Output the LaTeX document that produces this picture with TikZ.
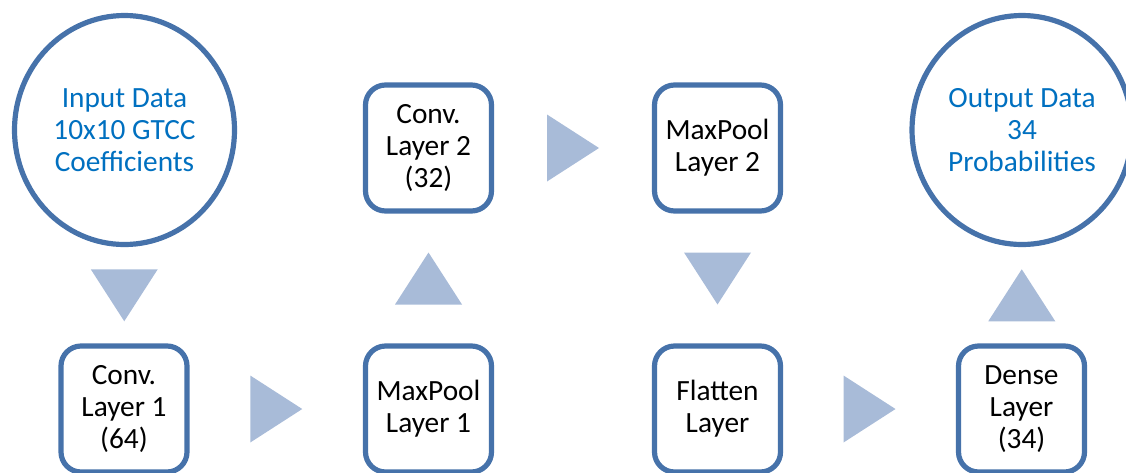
\documentclass[tikz,border=0pt]{standalone}
\usepackage{fontspec}
\setmainfont{Carlito}
\usetikzlibrary{shapes.geometric,calc}
\definecolor{edgeblue}{RGB}{70,114,170}
\definecolor{arrowblue}{RGB}{168,187,216}
\definecolor{textblue}{RGB}{0,112,192}
\tikzset{
  layer/.style={draw=edgeblue, line width=3.9pt, rounded corners=15pt,
    fill=white, minimum width=94.5pt, minimum height=94.5pt, inner sep=0pt,
    align=center, font=\fontsize{22}{24}\selectfont},
  data/.style={ellipse, draw=edgeblue, line width=3.9pt, fill=white,
    minimum width=165pt, minimum height=171.75pt, inner sep=0pt,
    align=center, text=textblue, font=\fontsize{22}{24}\selectfont},
  tri/.pic={\fill[arrowblue] (-26,-33.5) -- (26,0) -- (-26,33.5) -- cycle;}
}
\begin{document}
\begin{tikzpicture}[x=0.75pt,y=-0.75pt]
      \useasboundingbox (0,0) rectangle (1126,472);
      \clip (0,0) rectangle (1126,472);
      \draw
        (124.5,130) node[data] (in){Input Data\\10x10 GTCC\\Coefficients}
        (124,409) node[layer] (c1){Conv.\\Layer 1\\(64)}
        (428.5,409) node[layer] (mp1){MaxPool\\Layer 1}
        (428.5,148) node[layer] (c2){Conv.\\Layer 2\\(32)}
        (717.5,148) node[layer] (mp2){MaxPool\\Layer 2}
        (717.5,409) node[layer] (fl){Flatten\\Layer}
        (1021.5,409) node[layer] (de){Dense\\Layer\\(34)}
        (1022,130) node[data] (out){Output Data\\34\\Probabilities};
      \begin{scope}
        \pic[rotate=-90] at ($(in.south)!0.5!(c1.north)$) {tri};
        \pic at ($(c1.east)!0.5!(mp1.west)$) {tri};
        \pic[rotate=90] at ($(mp1.north)!0.5!(c2.south)$) {tri};
        \pic at ($(c2.east)!0.5!(mp2.west)$) {tri};
        \pic[rotate=-90] at ($(mp2.south)!0.5!(fl.north)$) {tri};
        \pic at ($(fl.east)!0.5!(de.west)$) {tri};
        \pic[rotate=90] at ($(de.north)!0.5!(out.south)$) {tri};
      \end{scope}
    \end{tikzpicture}
\end{document}
